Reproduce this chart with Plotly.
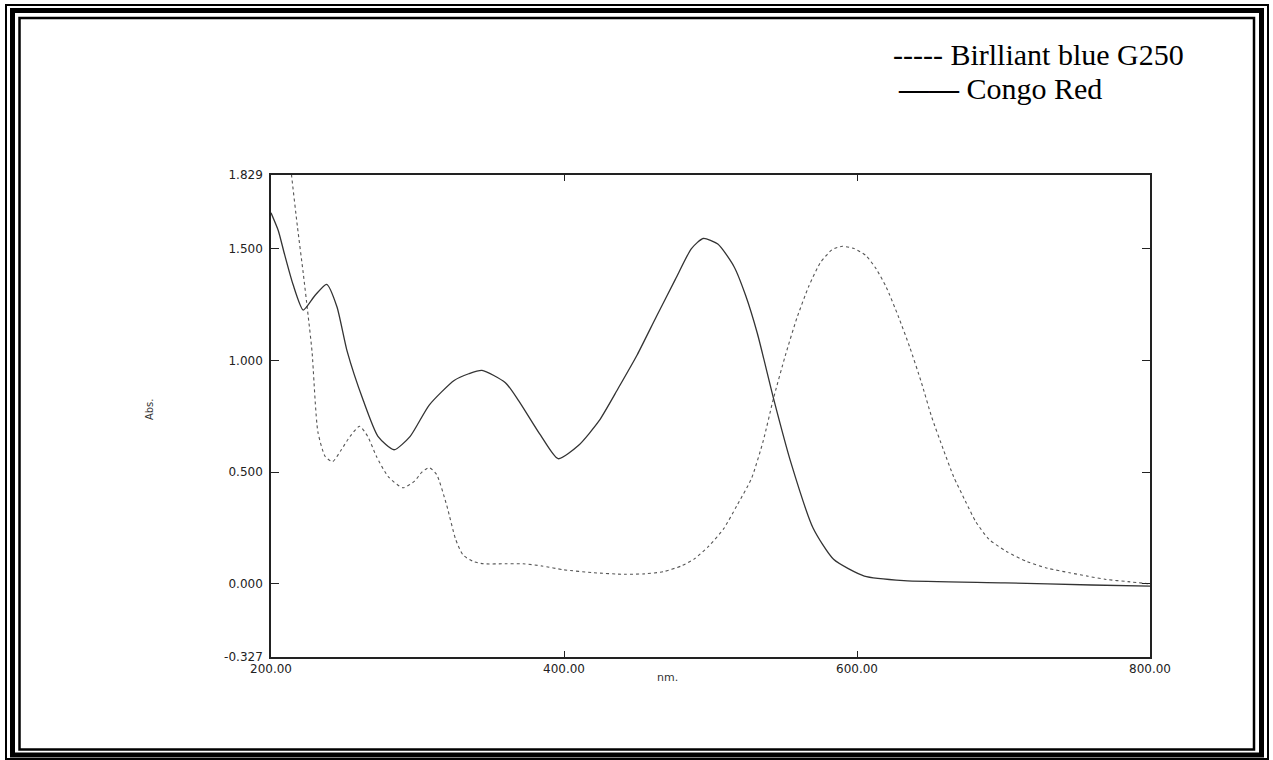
import plotly.graph_objects as go

# ---------------- data ----------------
wl_congo = [200, 205, 209, 215, 222, 230, 238, 245, 252, 263, 273, 284, 295, 308,
            325, 335, 344, 360, 369, 384, 396, 410, 424, 437, 450, 463, 476, 487,
            495, 505, 516, 524, 532, 543, 555, 570, 584, 605, 632, 701, 760, 800]
abs_congo = [1.66, 1.58, 1.48, 1.34, 1.225, 1.29, 1.34, 1.24, 1.04, 0.82, 0.66, 0.60, 0.66, 0.80,
             0.91, 0.94, 0.955, 0.90, 0.82, 0.665, 0.56, 0.62, 0.73, 0.875, 1.025, 1.195, 1.362, 1.50,
             1.545, 1.52, 1.42, 1.29, 1.12, 0.83, 0.54, 0.25, 0.11, 0.035, 0.015, 0.005, -0.005, -0.01]

wl_blue = [200, 205, 210, 214, 218, 222, 225, 228, 232, 237, 242, 248, 254, 260.5, 266, 272,
           280, 290, 298, 303, 308, 313, 320, 326, 331, 338, 345, 360, 372, 385, 400, 420,
           441, 455, 468, 480, 489, 499, 509, 518, 528, 536, 543, 551, 559, 567, 575, 583,
           590, 598, 606, 613, 620, 628, 636, 644, 651, 659, 666, 674, 681, 690, 702, 716,
           730, 745, 757, 770, 785, 800]
abs_blue = [2.9, 2.5, 2.1, 1.83, 1.60, 1.39, 1.22, 1.04, 0.68, 0.57, 0.547, 0.60, 0.66, 0.705, 0.66, 0.57,
            0.48, 0.43, 0.46, 0.50, 0.52, 0.49, 0.35, 0.20, 0.13, 0.10, 0.09, 0.09, 0.09, 0.08, 0.063, 0.05,
            0.043, 0.045, 0.055, 0.08, 0.112, 0.17, 0.247, 0.35, 0.472, 0.64, 0.83, 1.02, 1.19, 1.33, 1.437, 1.495,
            1.51, 1.50, 1.469, 1.41, 1.327, 1.20, 1.059, 0.90, 0.746, 0.60, 0.479, 0.37, 0.279, 0.20, 0.145, 0.10,
            0.07, 0.05, 0.035, 0.02, 0.01, 0.0]

x_ticks = [200, 400, 600, 800]
x_tick_text = ["200.00", "400.00", "600.00", "800.00"]
y_ticks = [1.829, 1.5, 1.0, 0.5, 0.0, -0.327]
y_tick_text = ["1.829", "1.500", "1.000", "0.500", "0.000", "-0.327"]

legend_blue = "----- Birlliant blue G250"
legend_congo = "<b>——</b> Congo Red"

# ---------------- layout geometry (pixels) ----------------
W, H = 1273, 760
L, R, T, B = 271, 1150, 175, 657
PW, PH = R - L, B - T


def px(x):
    return (x - L) / PW


def py(y):
    return (B - y) / PH


fig = go.Figure()
fig.add_trace(go.Scatter(x=wl_blue, y=abs_blue, mode="lines",
                         line=dict(color="#555555", width=1.1, dash="3px,3px",
                                   shape="spline", smoothing=0.6),
                         showlegend=False))
fig.add_trace(go.Scatter(x=wl_congo, y=abs_congo, mode="lines",
                         line=dict(color="#333333", width=1.3,
                                   shape="spline", smoothing=0.6),
                         showlegend=False))

tickfont = dict(family="DejaVu Sans", size=12, color="#222222")
fig.update_xaxes(range=[200, 800], tickvals=x_ticks, ticktext=x_tick_text,
                 showgrid=False, zeroline=False, showline=True, linecolor="#222222",
                 linewidth=1.6, mirror="ticks", ticks="inside", ticklen=6,
                 tickcolor="#222222", tickfont=tickfont)
fig.update_yaxes(range=[-0.327, 1.829], tickvals=y_ticks, ticktext=y_tick_text,
                 showgrid=False, zeroline=False, showline=True, linecolor="#222222",
                 linewidth=1.6, mirror="ticks", ticks="inside", ticklen=8,
                 tickcolor="#222222", tickfont=tickfont, ticklabelstandoff=4)

shapes = []
for (x0, y0, x1, y1, w) in [(6, 5, 1268, 759, 2), (12.5, 10.5, 1261.5, 755, 5),
                            (19.5, 18, 1254, 749.5, 2.5)]:
    shapes.append(dict(type="rect", xref="paper", yref="paper",
                       x0=px(x0), x1=px(x1), y0=py(y0), y1=py(y1),
                       line=dict(color="black", width=w), fillcolor="rgba(0,0,0,0)",
                       layer="above"))

annotations = [
    dict(text=legend_blue, x=px(891), y=py(54), xref="paper", yref="paper",
         xanchor="left", yanchor="middle", showarrow=False,
         font=dict(family="Liberation Serif", size=30, color="black")),
    dict(text=legend_congo, x=px(896), y=py(89), xref="paper", yref="paper",
         xanchor="left", yanchor="middle", showarrow=False,
         font=dict(family="Liberation Serif", size=30, color="black")),
    dict(text="Abs.", x=px(149), y=py(410), xref="paper", yref="paper",
         xanchor="center", yanchor="middle", showarrow=False, textangle=-90,
         font=dict(family="DejaVu Sans Condensed", size=11, color="#333333")),
    dict(text="nm.", x=px(667), y=py(677), xref="paper", yref="paper",
         xanchor="center", yanchor="middle", showarrow=False,
         font=dict(family="DejaVu Sans", size=11, color="#333333")),
]

fig.update_layout(width=W, height=H, margin=dict(l=L, r=W - R, t=T, b=H - B),
                  paper_bgcolor="white", plot_bgcolor="white",
                  shapes=shapes, annotations=annotations, showlegend=False)

fig.write_html("out.html")
